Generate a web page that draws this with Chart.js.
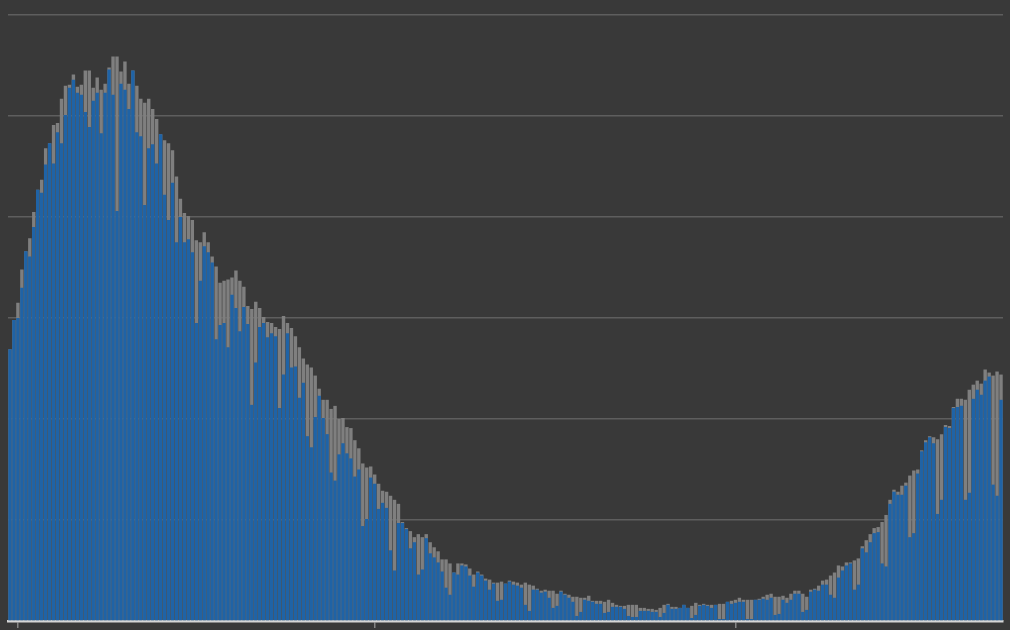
<!DOCTYPE html>
<html>
<head>
<meta charset="utf-8">
<script src="https://cdn.jsdelivr.net/npm/chart.js@4.4.1/dist/chart.umd.min.js"></script>
<style>
  html, body { margin: 0; padding: 0; background: #393939; }
  canvas { display: block; }
</style>
</head>
<body>
<canvas id="chart" width="1010" height="630"></canvas>
<script>
// daily values (grid step = 100)
const totalValues = [
  269,298,315,348,366,379,405,427,437,468,473,491,493,517,530,531,541,529,531,545,
  545,528,538,526,532,548,559,559,544,554,532,545,530,517,513,517,507,497,482,476,473,
  466,440,418,404,401,397,377,375,385,375,361,351,335,337,338,340,347,337,331,312,309,
  316,310,301,296,295,291,289,302,295,290,282,271,260,254,251,243,230,219,219,210,213,200,
  201,192,191,179,171,156,152,153,145,136,129,128,124,120,116,98,92,89,83,86,83,86,78,
  73,69,61,61,57,48,57,57,56,52,46,49,46,42,41,38,38,39,37,40,
  39,38,36,38,36,35,32,30,31,30,30,27,30,27,26,24,24,23,23,25,20,20,20,19,21,18,16,15,
  15,16,16,16,13,13,12,12,11,13,16,17,14,14,
  13,16,13,15,18,16,17,16,16,16,17,17,19,20,21,23,21,21,21,21,22,24,26,27,24,24,25,23,
  27,30,30,27,24,31,32,35,40,41,45,48,55,54,58,
  58,60,62,74,80,86,92,93,98,105,120,130,128,134,137,144,149,150,169,179,183,182,180,
  185,194,193,212,220,220,219,229,234,238,235,249,246,243,247,244
];

const blueValues = [
  269,298,300,330,366,361,390,427,424,452,473,453,484,473,501,528,536,523,521,504,
  489,515,523,483,523,546,521,406,532,526,507,545,484,480,412,468,472,453,482,422,397,
  434,375,400,375,378,365,295,337,371,365,355,279,293,295,271,323,310,287,311,294,214,
  256,291,295,281,285,282,211,244,285,251,252,221,236,183,172,202,223,201,185,147,139,165,
  176,166,161,143,150,94,101,142,136,111,117,112,70,50,97,97,91,72,78,46,51,82,67,
  63,58,49,33,26,48,46,55,54,45,34,48,45,40,31,37,20,21,37,39,
  36,35,33,16,10,31,31,28,29,23,13,15,29,26,23,19,5,9,21,20,19,17,17,8,9,14,14,14,
  12,5,4,4,10,10,10,9,9,4,8,16,12,12,
  13,16,13,3,6,15,16,15,13,16,2,2,19,17,18,19,19,2,2,21,21,22,21,23,6,7,21,18,
  21,27,27,9,11,29,31,30,36,36,26,23,43,50,55,
  57,31,36,72,68,78,87,88,57,54,116,128,125,125,134,83,87,146,168,177,182,176,106,
  120,192,191,211,212,213,120,127,220,229,224,238,242,135,124,219
];

// x axis: one category per day, tick marks only on quarter starts
const firstDay = [2020, 11, 30];
const tickDates = ['2021-01-01', '2021-04-01', '2021-07-01'];
const yTicks = [0, 100, 200, 300, 400, 500, 600];

const pad = n => String(n).padStart(2, '0');
const dayLabels = totalValues.map((_, i) => {
  const d = new Date(firstDay[0], firstDay[1], firstDay[2] + i);
  return d.getFullYear() + '-' + pad(d.getMonth() + 1) + '-' + pad(d.getDate());
});

new Chart(document.getElementById('chart'), {
  type: 'bar',
  data: {
    labels: dayLabels,
    datasets: [
      {
        data: blueValues,
        backgroundColor: '#1f63a6',
        grouped: false,
        barPercentage: 0.86,
        categoryPercentage: 1
      },
      {
        data: totalValues,
        backgroundColor: '#7f7f7f',
        grouped: false,
        barPercentage: 0.86,
        categoryPercentage: 1
      }
    ]
  },
  options: {
    responsive: false,
    devicePixelRatio: 1,
    animation: false,
    layout: { padding: { left: 8, right: 7, top: 15, bottom: 2 } },
    plugins: {
      legend: { display: false },
      tooltip: { enabled: false }
    },
    scales: {
      x: {
        offset: true,
        ticks: { display: false, autoSkip: false },
        grid: {
          offset: false,
          drawOnChartArea: false,
          drawTicks: true,
          tickLength: 7,
          lineWidth: 1.5,
          color: ctx => tickDates.includes(dayLabels[ctx.index]) ? '#858585' : 'transparent'
        },
        border: { display: true, color: '#d6d6d6', width: 2.5 }
      },
      y: {
        min: yTicks[0],
        max: yTicks[yTicks.length - 1],
        ticks: { display: false, stepSize: 100 },
        grid: { color: '#5e5e5e', lineWidth: 1.5, drawTicks: false },
        border: { display: false }
      }
    }
  }
});
</script>
</body>
</html>
